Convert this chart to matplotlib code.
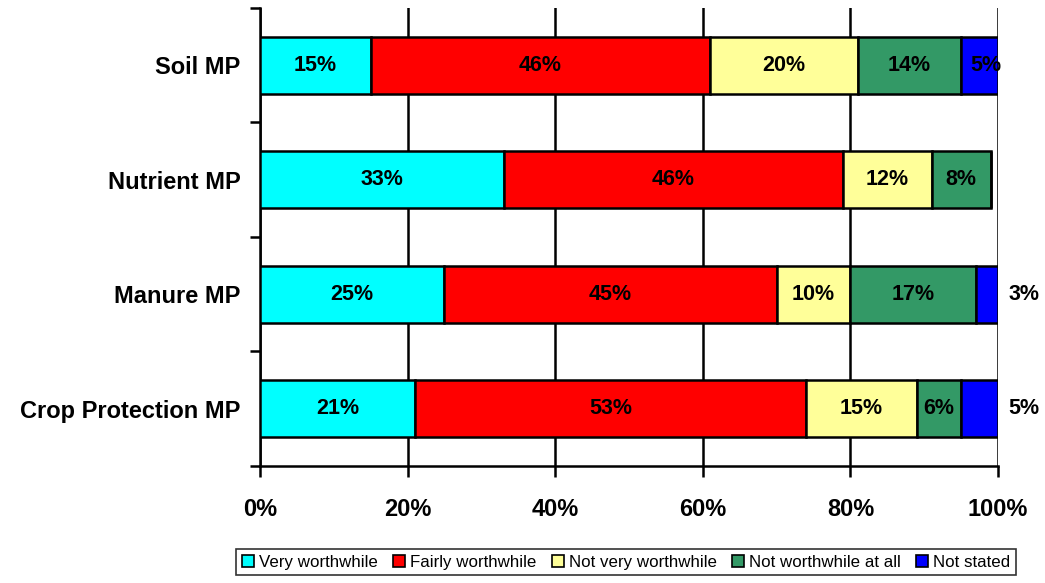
import numpy as np
import matplotlib
matplotlib.use("Agg")
import matplotlib.pyplot as plt
from matplotlib.ticker import FixedLocator

plt.rcParams["font.family"] = ["Liberation Sans", "DejaVu Sans"]

categories = ["Crop Protection MP", "Manure MP", "Nutrient MP", "Soil MP"]
series = ["Very worthwhile", "Fairly worthwhile", "Not very worthwhile",
          "Not worthwhile at all", "Not stated"]
colors = ["#00FFFF", "#FF0000", "#FFFF99", "#339966", "#0000FF"]
very = [21, 25, 33, 15]
fairly = [53, 45, 46, 46]
not_very = [15, 10, 12, 20]
not_at_all = [6, 17, 8, 14]
not_stated = [5, 3, 0, 5]
values = [very, fairly, not_very, not_at_all, not_stated]

fig = plt.figure(figsize=(10.45, 5.83), dpi=100)
ax = fig.add_axes([0.2488, 0.2007, 0.7062, 0.7856])

y = np.arange(len(categories))
left = np.zeros(len(categories))
for name, vals, col in zip(series, values, colors):
    vals = np.array(vals, dtype=float)
    ax.barh(y, vals, left=left, height=0.5, color=col, edgecolor="black",
            linewidth=1.8, label=name, zorder=3)
    for i, v in enumerate(vals):
        if v == 0:
            continue
        cx = left[i] + v / 2
        if name == "Not stated" and categories[i] != "Soil MP":
            cx = 103.5
        elif name == "Not stated":
            cx = left[i] + v / 2 + 0.8
        ax.text(cx, y[i], f"{int(v)}%", ha="center", va="center",
                fontsize=15.5, fontweight="bold", color="black", zorder=4)
    left += vals

ax.set_xlim(0, 100)
ax.set_ylim(-0.5, 3.5)
ax.set_xticks([0, 20, 40, 60, 80, 100])
ax.set_xticklabels(["0%", "20%", "40%", "60%", "80%", "100%"],
                   fontsize=17, fontweight="bold")
ax.set_yticks(y)
ax.set_yticklabels(categories, fontsize=17, fontweight="bold")
ax.yaxis.set_minor_locator(FixedLocator([-0.5, 0.5, 1.5, 2.5, 3.5]))
ax.tick_params(axis="y", which="major", length=0, pad=14)
ax.tick_params(axis="y", which="minor", length=7, width=1.8, direction="out")
ax.tick_params(axis="x", length=8, width=1.8, direction="out", pad=15)
ax.grid(axis="x", color="black", lw=1.8, zorder=0)
for s in ("top", "right"):
    ax.spines[s].set_visible(False)
for s in ("left", "bottom"):
    ax.spines[s].set_linewidth(1.8)

leg = fig.legend(loc="center", bbox_to_anchor=(0.599, 0.036), ncol=5,
                 fontsize=12.2, frameon=True, fancybox=False, edgecolor="black",
                 handlelength=0.7, handleheight=0.7, handletextpad=0.3,
                 columnspacing=0.9, borderpad=0.35)
leg.get_frame().set_linewidth(1.2)
for h in leg.legend_handles:
    h.set_linewidth(1.2)

fig.savefig("out.png", dpi=100, facecolor="white")
